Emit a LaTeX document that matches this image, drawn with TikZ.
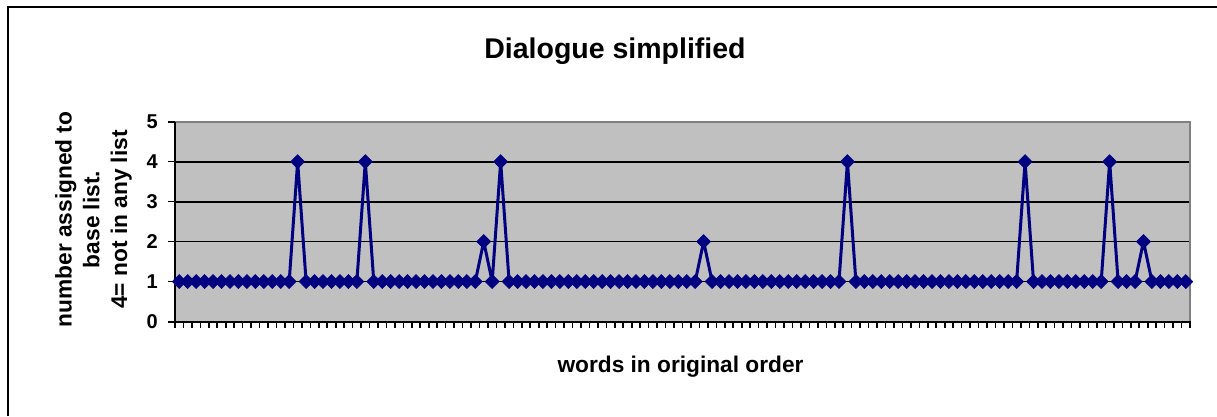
\documentclass[tikz,border=0pt]{standalone}
\usepackage{fontspec}
\setmainfont{Liberation Sans}
\definecolor{plotbg}{HTML}{C0C0C0}
\definecolor{plotedge}{HTML}{808080}
\definecolor{navy}{HTML}{000080}
\tikzset{
  declare function={
    px(\k)=175+(\k+0.5)*8.4583;
    py(\v)=321.5-39.96*\v;
    val(\k)=((\k==14)||(\k==22)||(\k==38)||(\k==79)||(\k==100)||(\k==110)) ? 4 : (((\k==36)||(\k==62)||(\k==114)) ? 2 : 1);
  },
  frameline/.style={line width=2pt, black},
  gridline/.style={line width=1.8pt, black},
  axisline/.style={line width=2pt, black},
  edgeline/.style={line width=2pt, plotedge},
  tickline/.style={line width=1.6pt, black},
  series/.style={line width=3pt, navy, line join=round},
  marker/.style={fill=navy, draw=navy, line width=0.6pt},
  ticklabel/.style={font=\fontsize{20}{24}\selectfont\bfseries, inner sep=0pt},
  axistitle/.style={font=\fontsize{22.7}{27.8}\selectfont\bfseries, inner sep=0pt, align=center},
  charttitle/.style={font=\fontsize{28.5}{34}\selectfont\bfseries, inner sep=0pt},
}
\begin{document}
\begin{tikzpicture}[x=1pt,y=-1pt]
\useasboundingbox (0,0) rectangle (1217,416);
% outer frame (left and top edges visible)
\draw[frameline] (7.5,416) -- (7.5,6.5) -- (1217,6.5);
% plot area
\fill[plotbg] (175,121.7) rectangle (1190,321.5);
\foreach \v in {1,2,3,4}
  \draw[gridline] (175,{py(\v)}) -- (1190,{py(\v)});
\draw[edgeline] (175,121.7) -- (1190,121.7) -- (1190,321.5);
% axes
\draw[axisline] (175,121.7) -- (175,321.5);
\draw[axisline] (168,321.5) -- (1191,321.5);
\foreach \v in {0,...,5}{
  \draw[tickline] (168,{py(\v)}) -- (175,{py(\v)});
  \node[ticklabel, anchor=east] (yl\v) at (158,{py(\v)}) {\v};
}
\foreach \k in {0,...,120}
  \draw[tickline] ({175+\k*8.4583},321.5) -- ({175+\k*8.4583},328);
% series line
\draw[series] plot[samples at={0,...,119}] ({px(\x)},{py(val(\x))});
% series markers (diamonds)
\foreach \k in {0,...,119}{
  \pgfmathsetmacro\mx{px(\k)}
  \pgfmathsetmacro\my{py(val(\k))}
  \draw[marker] (\mx,\my-7) -- (\mx+7,\my) -- (\mx,\my+7) -- (\mx-7,\my) -- cycle;
}
% titles
\node[charttitle] (title) at (615,51) {Dialogue simplified};
\node[axistitle] (xtitle) at (680.5,367) {words in original order};
\node[axistitle, rotate=90] (ytitle) at (93.5,219.5) {number assigned to\\base list.\\4= not in any list};
\end{tikzpicture}
\end{document}
